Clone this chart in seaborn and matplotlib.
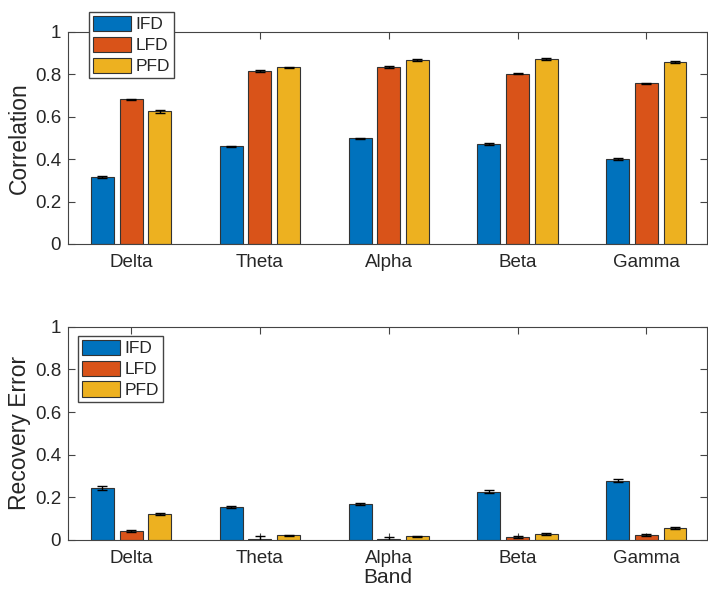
import matplotlib
matplotlib.use("Agg")
import matplotlib.pyplot as plt
import numpy as np
import pandas as pd
import seaborn as sns

sns.set_style("ticks")
plt.rcParams["font.family"] = ["Liberation Sans", "DejaVu Sans"]

BANDS = ["Delta", "Theta", "Alpha", "Beta", "Gamma"]
METHODS = ["IFD", "LFD", "PFD"]
COLORS = ["#0072BD", "#D95319", "#EDB120"]

# correlation (top panel)
corr_ifd = [0.315, 0.460, 0.498, 0.472, 0.402]
corr_lfd = [0.682, 0.816, 0.835, 0.804, 0.757]
corr_pfd = [0.626, 0.833, 0.868, 0.873, 0.857]
corr_err_ifd = [0.004, 0.004, 0.004, 0.005, 0.004]
corr_err_lfd = [0.004, 0.003, 0.003, 0.004, 0.003]
corr_err_pfd = [0.006, 0.003, 0.003, 0.003, 0.004]

# recovery error (bottom panel)
rec_ifd = [0.244, 0.153, 0.168, 0.227, 0.277]
rec_lfd = [0.041, 0.006, 0.005, 0.013, 0.022]
rec_pfd = [0.123, 0.022, 0.017, 0.028, 0.056]
rec_err_ifd = [0.009, 0.005, 0.005, 0.005, 0.007]
rec_err_lfd = [0.004, 0.010, 0.008, 0.006, 0.004]
rec_err_pfd = [0.004, 0.003, 0.003, 0.003, 0.004]


def long_table(vals, errs):
    rows = []
    for m, v, e in zip(METHODS, vals, errs):
        for b, vi, ei in zip(BANDS, v, e):
            rows.append({"Band": b, "Method": m, "value": vi, "err": ei})
    return pd.DataFrame(rows)


def draw(ax, df, ylabel, legend_anchor, xlabel=None):
    sns.barplot(data=df, x="Band", y="value", hue="Method", order=BANDS,
                hue_order=METHODS, palette=COLORS, width=0.667, gap=0.2,
                edgecolor="#333333", linewidth=0.8, errorbar=None, ax=ax,
                saturation=1)
    for cont, m in zip(ax.containers, METHODS):
        sub = df[df["Method"] == m].set_index("Band").loc[BANDS]
        xs = [b.get_x() + b.get_width() / 2 for b in cont]
        ax.errorbar(xs, sub["value"], yerr=sub["err"], fmt="none",
                    ecolor="black", elinewidth=1, capsize=3.5, capthick=1)
    ax.set_ylim(0, 1)
    ax.set_xlim(-0.49, 4.47)
    ax.set_yticks(np.arange(0, 1.01, 0.2))
    ax.set_yticklabels([f"{t:g}" for t in np.arange(0, 1.01, 0.2)])
    ax.tick_params(direction="in", top=True, right=True, length=5,
                   labelsize=13.5, color="#444444", width=0.8)
    ax.tick_params(axis="x", pad=7)
    ax.tick_params(axis="y", pad=5)
    for s in ax.spines.values():
        s.set_visible(True)
        s.set_color("#444444")
        s.set_linewidth(0.8)
    ax.set_ylabel(ylabel, fontsize=16.5, labelpad=3)
    ax.set_xlabel(xlabel if xlabel else "", fontsize=15, labelpad=1)
    ax.legend(loc="upper left", bbox_to_anchor=legend_anchor, borderaxespad=0,
              fontsize=12.5, fancybox=False, framealpha=1, edgecolor="#444444",
              handlelength=2.2, handleheight=0.98, labelspacing=0.25,
              handletextpad=0.25, borderpad=0.22)


fig = plt.figure(figsize=(7.08, 5.92), dpi=100)
ax1 = fig.add_axes([0.096, 0.588, 0.9025, 0.358])
ax2 = fig.add_axes([0.096, 0.088, 0.9025, 0.36])

draw(ax1, long_table([corr_ifd, corr_lfd, corr_pfd],
                     [corr_err_ifd, corr_err_lfd, corr_err_pfd]),
     "Correlation", (0.033, 1.094))
draw(ax2, long_table([rec_ifd, rec_lfd, rec_pfd],
                     [rec_err_ifd, rec_err_lfd, rec_err_pfd]),
     "Recovery Error", (0.016, 0.958), xlabel="Band")

fig.savefig("out.png", dpi=100)
